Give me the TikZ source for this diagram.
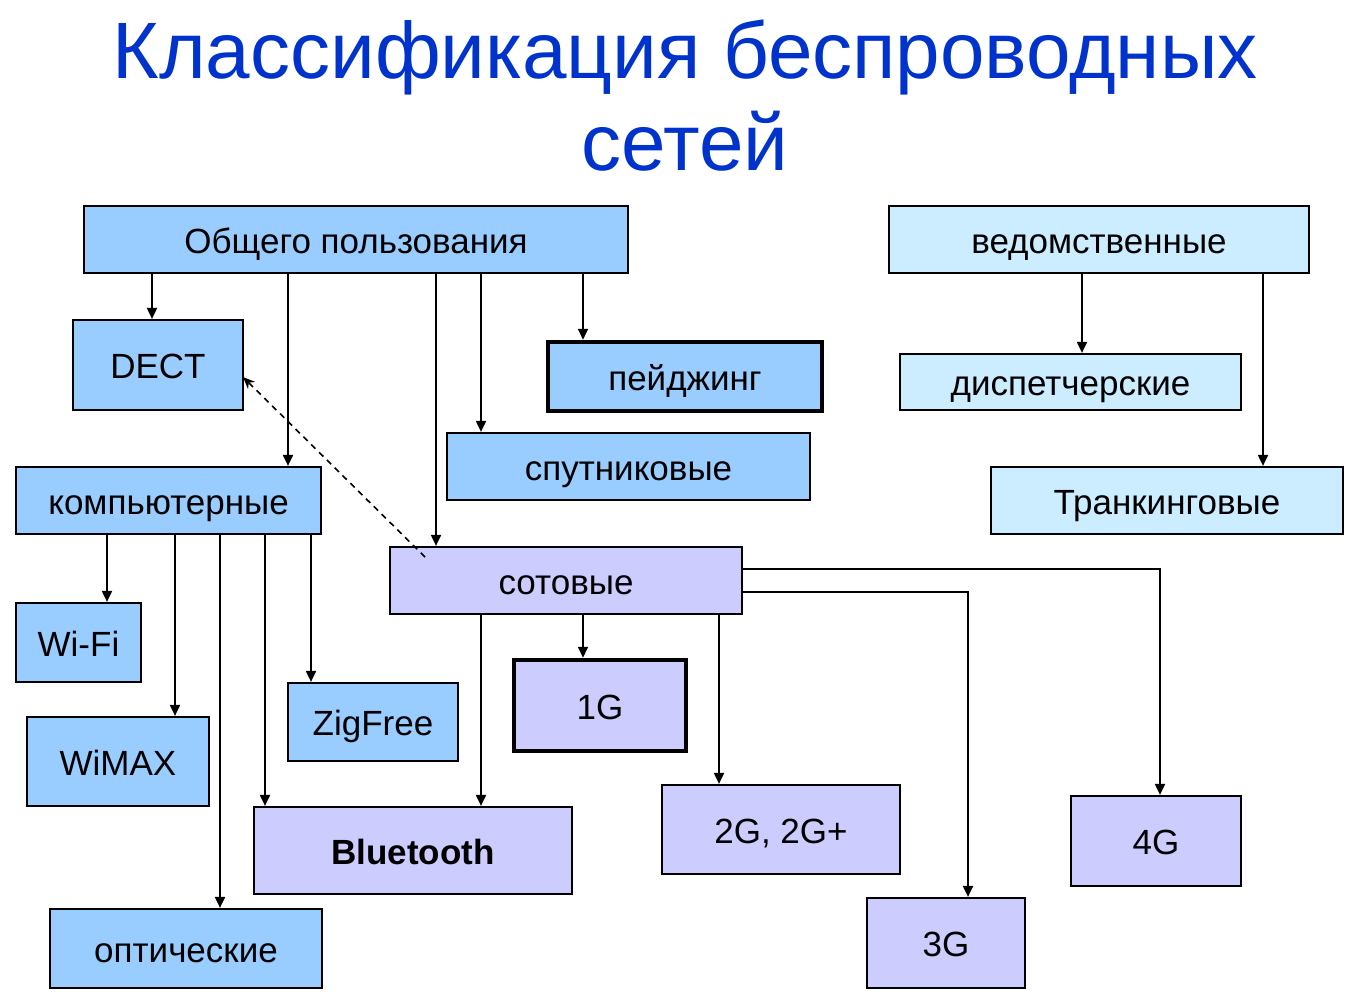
\documentclass[tikz,border=0pt]{standalone}
\usepackage{fontspec}
\setmainfont{Liberation Sans}
\usetikzlibrary{arrows.meta}
\definecolor{pubfill}{HTML}{99CCFF}
\definecolor{vedfill}{HTML}{CCECFF}
\definecolor{cellfill}{HTML}{CCCCFF}
\definecolor{titleblue}{HTML}{0033CC}
\begin{document}
\begin{tikzpicture}[x=1pt,y=1pt,
  basebox/.style={draw=black, line width=2.2pt, rectangle, inner sep=0pt,
    text height=27pt, text depth=0pt,
    font=\fontsize{35}{40}\selectfont, text=black},
  bluebox/.style={basebox, fill=pubfill},
  lightbox/.style={basebox, fill=vedfill},
  lilacbox/.style={basebox, fill=cellfill},
  thickbox/.style={line width=4.5pt},
  sz/.style 2 args={minimum width=#1pt, minimum height=#2pt},
  arr/.style={draw=black, line width=1.9pt, -{Triangle[length=11pt,width=10pt]}},
  dashedarr/.style={draw=black, line width=1.6pt, dash pattern=on 6pt off 5pt, -{Stealth[length=12pt,width=10pt]}},
  titletext/.style={font=\fontsize{80}{92}\selectfont, text=titleblue, inner sep=0pt, anchor=base}
]
\useasboundingbox (0,0) rectangle (1355,-1002);
\fill[white] (0,0) rectangle (1355,-1002);

% title
\node[titletext] (title1) at (685,-78) {Классификация беспроводных};
\node[titletext] (title2) at (685,-170) {сетей};

% boxes
\node[bluebox, sz={544}{67}] (pub) at (356,-239.5) {Общего пользования};
\node[lightbox, sz={420}{67}] (ved) at (1099,-239.5) {ведомственные};
\node[bluebox, sz={170}{90}] (dect) at (158,-365) {DECT};
\node[bluebox, thickbox, sz={274}{69}] (pag) at (685,-376.5) {пейджинг};
\node[lightbox, sz={341}{56}] (disp) at (1070.5,-382) {диспетчерские};
\node[bluebox, sz={363}{67}] (sput) at (628.5,-466.5) {спутниковые};
\node[lightbox, sz={352}{67}] (trunk) at (1167,-500.5) {Транкинговые};
\node[bluebox, sz={305}{67}] (comp) at (168.5,-500.5) {компьютерные};
\node[lilacbox, sz={352}{67}] (cell) at (566,-580.5) {сотовые};
\node[bluebox, sz={125}{79}] (wifi) at (78.5,-642.5) {Wi-Fi};
\node[bluebox, sz={170}{78}] (zig) at (373,-722) {ZigFree};
\node[lilacbox, thickbox, sz={172}{91}] (g1) at (600,-705.5) {1G};
\node[bluebox, sz={182}{89}] (wimax) at (118,-761.5) {WiMAX};
\node[lilacbox, sz={318}{87}, font=\fontsize{35}{40}\selectfont\bfseries] (bt) at (413,-850.5) {Bluetooth};
\node[lilacbox, sz={238}{89}] (g2) at (781,-829.5) {2G, 2G+};
\node[lilacbox, sz={170}{90}] (g4) at (1156,-841) {4G};
\node[lilacbox, sz={158}{90}] (g3) at (946,-943) {3G};
\node[bluebox, sz={272}{79}] (opt) at (186,-948.5) {оптические};

% x guides
\coordinate (x107) at (107,0);
\coordinate (x152) at (152,0);
\coordinate (x175) at (175,0);
\coordinate (x220) at (220,0);
\coordinate (x265) at (265,0);
\coordinate (x288) at (288,0);
\coordinate (x311) at (311,0);
\coordinate (x436) at (436,0);
\coordinate (x481) at (481,0);
\coordinate (x583) at (583,0);
\coordinate (x719) at (719,0);
\coordinate (x1082) at (1082,0);
\coordinate (x1263) at (1263,0);
\coordinate (y569) at (0,-569);
\coordinate (y592) at (0,-592);
\coordinate (b968) at (968,-592);
\coordinate (b1160) at (1160,-569);
\coordinate (dstart) at (425,-557);
\coordinate (dend) at (243,-377);

% connectors from Общего пользования
\draw[arr] (pub.south -| x152) -- (dect.north -| x152);
\draw[arr] (pub.south -| x288) -- (comp.north -| x288);
\draw[arr] (pub.south -| x436) -- (cell.north -| x436);
\draw[arr] (pub.south -| x481) -- (sput.north -| x481);
\draw[arr] (pub.south -| x583) -- (pag.north -| x583);

% ведомственные
\draw[arr] (ved.south -| x1082) -- (disp.north -| x1082);
\draw[arr] (ved.south -| x1263) -- (trunk.north -| x1263);

% компьютерные
\draw[arr] (comp.south -| x107) -- (wifi.north -| x107);
\draw[arr] (comp.south -| x175) -- (wimax.north -| x175);
\draw[arr] (comp.south -| x220) -- (opt.north -| x220);
\draw[arr] (comp.south -| x265) -- (bt.north -| x265);
\draw[arr] (comp.south -| x311) -- (zig.north -| x311);

% сотовые
\draw[arr] (cell.south -| x481) -- (bt.north -| x481);
\draw[arr] (cell.south -| x583) -- (g1.north -| x583);
\draw[arr] (cell.south -| x719) -- (g2.north -| x719);
\draw[arr] (cell.east |- y592) -- (b968) -- (g3.north -| b968);
\draw[arr] (cell.east |- y569) -- (b1160) -- (g4.north -| b1160);

% dashed
\draw[dashedarr] (dstart) -- (dend);
\end{tikzpicture}
\end{document}
